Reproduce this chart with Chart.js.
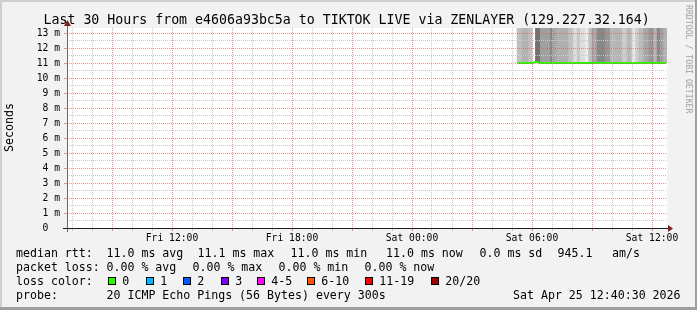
<!DOCTYPE html>
<html>
<head>
<meta charset="utf-8">
<script src="https://cdn.jsdelivr.net/npm/chart.js@4.4.1/dist/chart.umd.min.js"></script>
<style>
  body { margin: 0; background: #f2f2f2; }
  #wrap { position: relative; width: 697px; height: 310px; font-family: 'DejaVu Sans Mono', monospace; color: #000; }
  #wrap canvas { position: absolute; left: 0; top: 0; }
  .t { position: absolute; white-space: pre; line-height: 1; }
  .leg { font-size: 11.6px; }
  .box { position: absolute; width: 6px; height: 6px; border: 1px solid #000; top: 277px; }
</style>
</head>
<body>
<div id="wrap">
  <canvas id="smokeChart" width="697" height="310"></canvas>
  <div class="t" style="left:43.5px;top:12.8px;font-size:13.25px">Last 30 Hours from e4606a93bc5a to TIKTOK LIVE via ZENLAYER (129.227.32.164)</div>
  <div class="t" style="left:4.2px;top:152px;font-size:11.6px;transform:rotate(-90deg);transform-origin:0 0">Seconds</div>
  <div class="t" style="left:693px;top:5px;font-size:8.2px;color:#a0a0a0;transform:rotate(90deg);transform-origin:0 0">RRDTOOL / TOBI OETIKER</div>

  <div class="t leg" style="left:16px;top:247.7px">median rtt:</div>
  <div class="t leg" style="left:106.5px;top:247.7px">11.0 ms avg</div>
  <div class="t leg" style="left:197.5px;top:247.7px">11.1 ms max</div>
  <div class="t leg" style="left:290.5px;top:247.7px">11.0 ms min</div>
  <div class="t leg" style="left:386px;top:247.7px">11.0 ms now</div>
  <div class="t leg" style="left:479.5px;top:247.7px">0.0 ms sd</div>
  <div class="t leg" style="left:557.5px;top:247.7px">945.1</div>
  <div class="t leg" style="left:612px;top:247.7px">am/s</div>

  <div class="t leg" style="left:16px;top:262px">packet loss:</div>
  <div class="t leg" style="left:106.5px;top:262px">0.00 % avg</div>
  <div class="t leg" style="left:192.5px;top:262px">0.00 % max</div>
  <div class="t leg" style="left:278.5px;top:262px">0.00 % min</div>
  <div class="t leg" style="left:364.5px;top:262px">0.00 % now</div>

  <div class="t leg" style="left:16px;top:275.7px">loss color:</div>
  <div id="lossLegend"></div>

  <div class="t leg" style="left:16px;top:290px">probe:</div>
  <div class="t leg" style="left:106.5px;top:290px">20 ICMP Echo Pings (56 Bytes) every 300s</div>
  <div class="t leg" style="left:513px;top:290px">Sat Apr 25 12:40:30 2026</div>
</div>
<script>
// time axis in hours counted from Fri 00:00
const rangeStart = 6.75;   // Fri 06:45
const rangeEnd = 36.75;    // Sat 12:45
const firstSample = 29.25; // Sat 05:15, probe step 300s
const stepHours = 300 / 3600;

const xTickHours = [12, 18, 24, 30, 36];
const xTickLabels = ['Fri 12:00', 'Fri 18:00', 'Sat 00:00', 'Sat 06:00', 'Sat 12:00'];

// median rtt per 5 min sample (ms)
const medianRtt = [
  11.0, 11.0, 11.0, 11.0, 11.0, 11.0, 11.0, 11.0, 11.0, 11.0,
  11.07, 11.07, 11.07, 11.0, 11.0, 11.0, 11.0, 11.0, 11.0, 11.0,
  11.0, 11.0, 11.0, 11.0, 11.0, 11.0, 11.0, 11.0, 11.0, 11.0,
  11.0, 11.0, 11.0, 11.0, 11.0, 11.0, 11.0, 11.0, 11.0, 11.0,
  11.0, 11.0, 11.0, 11.0, 11.0, 11.0, 11.0, 11.0, 11.0, 11.0,
  11.0, 11.0, 11.0, 11.0, 11.0, 11.0, 11.0, 11.0, 11.0, 11.0,
  11.0, 11.0, 11.0, 11.0, 11.0, 11.0, 11.0, 11.0, 11.0, 11.0,
  11.0, 11.0, 11.0, 11.0, 11.0, 11.0, 11.0, 11.0, 11.0, 11.0,
  11.0, 11.0, 11.0, 11.0, 11.0, 11.0, 11.0, 11.0, 11.0, 11.0
];

// smoke density per sample (how tightly the 20 pings bunch), null = no smoke
const smokeDensity = [
  5.5, 5.5, 5.5, 6.8, 6.8, 6.8, 6.8, 5.5, 5.5, null,
  null, 13.3, 13.3, 13.3, 8.7, 8.7, 8.7, 8.7, 8.7, 8.7,
  11.1, 11.1, 7.9, 7.9, 7.1, 7.1, 7.1, 7.1, 7.1, 7.1,
  7.1, 5.5, 5.5, 5.5, 2.5, 2.5, 4.7, 4.7, 2.5, 2.5,
  2.5, 1.1, 1.1, 5.5, 5.5, 7.9, 7.9, 7.9, 11.1, 11.1,
  11.1, 11.1, 11.1, 9.5, 9.5, 9.5, 6.4, 6.4, 6.4, 6.4,
  6.6, 6.6, 6.6, 4.3, 4.3, 4.3, 6.3, 6.3, 6.3, 1.5,
  1.5, 3.9, 3.9, 5.9, 5.9, 5.9, 7.9, 7.9, 7.9, 9.5,
  9.5, 9.5, 6.7, 6.7, 11.1, 11.1, 8.7, 8.7, 6.8, 6.8
];
const smokeTop = 14.0; // slowest pings lie above the visible range

const lossLabels = ['0', '1', '2', '3', '4-5', '6-10', '11-19', '20/20'];
const lossColors = ['#26ff00', '#00b8ff', '#0059ff', '#7e00ff', '#ff00ff', '#ff5500', '#ff0000', '#a10000'];

// loss colour legend
const boxLeft = [108, 146, 183, 221, 257, 307, 365, 431];
const lossLegend = document.getElementById('lossLegend');
lossLabels.forEach((lab, i) => {
  const b = document.createElement('div');
  b.className = 'box';
  b.style.left = boxLeft[i] + 'px';
  b.style.background = lossColors[i];
  lossLegend.appendChild(b);
  const t = document.createElement('div');
  t.className = 't leg';
  t.style.left = (boxLeft[i] + 14.3) + 'px';
  t.style.top = '275.7px';
  t.textContent = lab;
  lossLegend.appendChild(t);
});

const sampleTimes = medianRtt.map((v, i) => firstSample + (i + 0.5) * stepHours);
const shade = d => { const g = Math.round(246 - 10 * d); return `rgb(${g},${g},${g})`; };

const MINOR = '#c8c8c8';
const MAJOR = 'rgba(222, 79, 79, 0.6)';

const frame = {
  id: 'frame',
  beforeDraw(chart) {
    const { ctx, chartArea: a, width, height } = chart;
    ctx.save();
    ctx.fillStyle = '#f2f2f2';
    ctx.fillRect(0, 0, width, height);
    ctx.fillStyle = '#cfcfcf';
    ctx.fillRect(0, 0, width, 2);
    ctx.fillRect(0, 0, 2, height);
    ctx.fillStyle = '#9e9e9e';
    ctx.fillRect(0, height - 3, width, 3);
    ctx.fillRect(width - 2, 0, 2, height);
    ctx.fillStyle = '#ffffff';
    ctx.fillRect(a.left, a.top, a.right - a.left, a.bottom - a.top);
    ctx.restore();
  },
  afterDraw(chart) {
    const { ctx, chartArea: a } = chart;
    ctx.save();
    // y axis
    ctx.fillStyle = '#6a6a6a';
    ctx.fillRect(a.left, a.top - 6, 1, a.bottom - a.top + 10);
    // x axis
    ctx.fillStyle = '#1f1f1f';
    ctx.fillRect(a.left - 4, a.bottom, a.right - a.left + 8, 1);
    // arrows
    ctx.fillStyle = '#801f1f';
    ctx.beginPath();
    ctx.moveTo(a.right + 1, a.bottom - 3);
    ctx.lineTo(a.right + 1, a.bottom + 4);
    ctx.lineTo(a.right + 6, a.bottom + 0.5);
    ctx.closePath();
    ctx.fill();
    ctx.beginPath();
    ctx.moveTo(a.left - 3, a.top - 2);
    ctx.lineTo(a.left + 4, a.top - 2);
    ctx.lineTo(a.left + 0.5, a.top - 8);
    ctx.closePath();
    ctx.fill();
    ctx.restore();
  }
};

Chart.defaults.font.family = "'DejaVu Sans Mono', monospace";
Chart.defaults.color = '#000';

const ctx = document.getElementById('smokeChart').getContext('2d');
const smokeChart = new Chart(ctx, {
  type: 'bar',
  data: {
    datasets: [{
      type: 'line',
      label: 'median rtt',
      data: sampleTimes.map((t, i) => ({ x: t, y: medianRtt[i] })),
      borderColor: lossColors[0],
      borderWidth: 2,
      pointRadius: 0,
      tension: 0,
      fill: false,
      order: 0
    }, {
      type: 'bar',
      label: 'smoke',
      data: sampleTimes.map((t, i) => ({ x: t, y: smokeDensity[i] == null ? null : [medianRtt[i], smokeTop] })),
      backgroundColor: smokeDensity.map(d => d == null ? 'rgba(0,0,0,0)' : shade(d)),
      borderWidth: 0,
      barThickness: 2.2,
      inflateAmount: 0,
      grouped: false,
      order: 1
    }]
  },
  options: {
    responsive: false,
    animation: false,
    devicePixelRatio: 1,
    layout: { padding: { top: 28, right: 30, bottom: 0, left: 0 } },
    plugins: { legend: { display: false }, tooltip: { enabled: false } },
    scales: {
      x: {
        type: 'linear',
        offset: false,
        min: rangeStart,
        max: rangeEnd,
        afterFit: s => { s.height = 82; },
        afterBuildTicks: s => {
          const t = [];
          for (let h = Math.ceil(rangeStart); h <= rangeEnd; h++) t.push({ value: h });
          s.ticks = t;
        },
        grid: {
          z: 1,
          offset: false,
          color: c => (c.tick && c.tick.value % 3 === 0) ? MAJOR : MINOR,
          tickColor: c => (c.tick && c.tick.value % 3 === 0) ? MAJOR : MINOR,
          tickLength: 3,
          lineWidth: 1
        },
        border: { display: false, dash: [1, 1] },
        ticks: {
          autoSkip: false,
          maxRotation: 0,
          padding: 2,
          font: { size: 9.7 },
          callback: v => { const k = xTickHours.indexOf(v); return k < 0 ? '' : xTickLabels[k]; }
        }
      },
      y: {
        min: 0,
        max: 40 / 3,
        afterFit: s => { s.width = 67; },
        afterBuildTicks: s => {
          const t = [];
          for (let v = 0; v <= 13; v += 0.5) t.push({ value: v });
          s.ticks = t;
        },
        grid: {
          z: 1,
          color: c => (c.tick && Number.isInteger(c.tick.value)) ? MAJOR : MINOR,
          tickColor: c => (c.tick && Number.isInteger(c.tick.value)) ? MAJOR : 'rgba(0,0,0,0)',
          tickLength: 3,
          lineWidth: 1
        },
        border: { display: false, dash: [1, 1] },
        ticks: {
          autoSkip: false,
          padding: 4,
          font: { size: 9.7 },
          callback: v => Number.isInteger(v) ? (v === 0 ? '0  ' : v + ' m') : ''
        }
      }
    }
  },
  plugins: [frame]
});
</script>
</body>
</html>
